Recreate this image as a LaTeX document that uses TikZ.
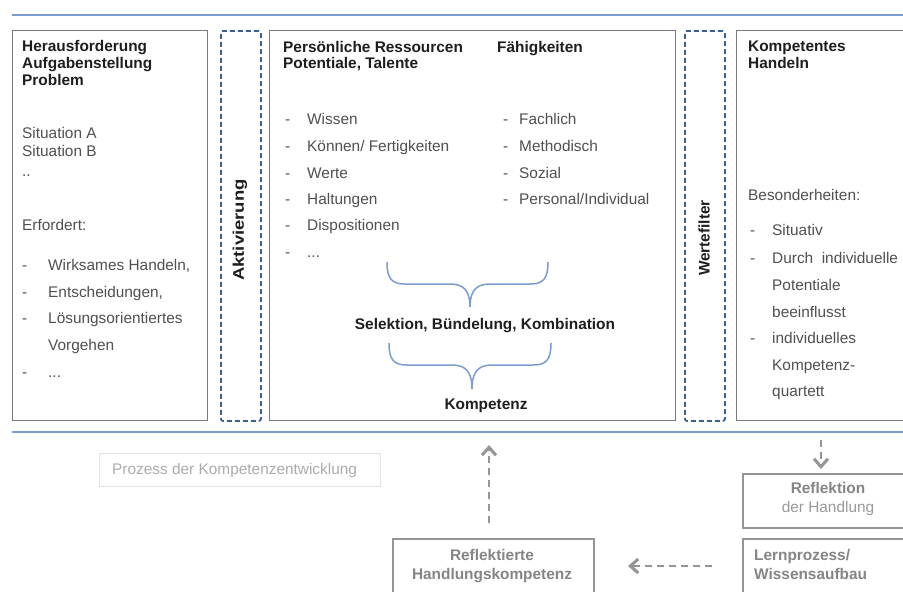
\documentclass[tikz,border=0pt]{standalone}
\usepackage{fontspec}
\setmainfont{Liberation Sans}
\usetikzlibrary{arrows.meta}
\definecolor{blueline}{HTML}{7C9CD0}
\definecolor{dashblue}{HTML}{3F5F90}
\definecolor{boxgray}{HTML}{7A7A7A}
\definecolor{txtgray}{HTML}{505050}
\definecolor{hdgray}{HTML}{1E1E1E}
\definecolor{lowgray}{HTML}{959595}
\definecolor{lowtext}{HTML}{858585}
\definecolor{lowtextb}{HTML}{9A9A9A}
\definecolor{faintgray}{HTML}{E2E2E2}
\definecolor{proztext}{HTML}{ABABAB}
\newcommand\myfs{\fontsize{15.4}{18}\selectfont}
\begin{document}
\begin{tikzpicture}[x=1pt,y=-1pt,
 box/.style={draw=boxgray, line width=1.3pt, inner sep=0, anchor=north west},
 dbox/.style={draw=dashblue, line width=1.8pt, dash pattern=on 5pt off 3pt, rounded corners=2pt, inner sep=0, anchor=north west},
 lowbox/.style={draw=lowgray, line width=1.5pt, inner sep=0, anchor=north west},
 tx/.style={anchor=base west, inner sep=0, text=txtgray, font=\myfs},
 hd/.style={anchor=base west, inner sep=0, text=hdgray, font=\myfs\bfseries},
 hdc/.style={anchor=base, inner sep=0, text=hdgray, font=\myfs\bfseries},
 rot/.style={rotate=90, inner sep=0, text=hdgray, font=\myfs\bfseries},
 sep/.style={draw=blueline, line width=1.6pt},
 brace/.style={draw=blueline, line width=1.5pt},
 flow/.style={draw=lowgray, line width=2.5pt, dash pattern=on 7pt off 5pt, -{Straight Barb[length=8pt,width=14pt,line width=3pt]}},
 low/.style={anchor=base, inner sep=0, text=lowtext, font=\myfs}
]
\fill[white] (0,0) rectangle (903,592);
\useasboundingbox (0,0) rectangle (903,592);

% separator lines
\coordinate (t1) at (12,15); \coordinate (t2) at (903,15);
\coordinate (b1) at (12,432); \coordinate (b2) at (903,432);
\draw[sep] (t1) -- (t2);
\draw[sep] (b1) -- (b2);

% main boxes
\node (lbox) [box, minimum width=195pt, minimum height=390pt] at (12,30) {};
\node (akt) [dbox, minimum width=40pt, minimum height=390pt] at (220,30) {};
\node (mbox) [box, minimum width=406pt, minimum height=390pt] at (269,30) {};
\node (wert) [dbox, minimum width=40pt, minimum height=390pt] at (684,30) {};
\node (rbox) [box, minimum width=180pt, minimum height=390pt] at (736,30) {};

\node (aktt) [rot, xscale=1.2] at (240,230) {Aktivierung};
\node (wertt) [rot] at (704,238) {Wertefilter};

% left box text
\node (l1) [hd] at (22,51) {Herausforderung};
\node (l2) [hd] at (22,68) {Aufgabenstellung};
\node (l3) [hd] at (22,85) {Problem};
\node (l4) [tx] at (22,138) {Situation A};
\node (l5) [tx] at (22,156) {Situation B};
\node (l6) [tx] at (22,176) {..};
\node (l7) [tx] at (22,230) {Erfordert:};
\node (ld1) [tx] at (22,270) {-};
\node (li1) [tx] at (48,270) {Wirksames Handeln,};
\node (ld2) [tx] at (22,297) {-};
\node (li2) [tx] at (48,297) {Entscheidungen,};
\node (ld3) [tx] at (22,323) {-};
\node (li3) [tx] at (48,323) {Lösungsorientiertes};
\node (li4) [tx] at (48,350) {Vorgehen};
\node (ld5) [tx] at (22,377) {-};
\node (li5) [tx] at (48,377) {...};

% middle box text
\node (m1) [hd] at (283,52) {Persönliche Ressourcen};
\node (m2) [hd] at (283,68) {Potentiale, Talente};
\node (m3) [hd] at (497,52) {Fähigkeiten};
\node (md1) [tx] at (285,124) {-}; \node (mi1) [tx] at (307,124) {Wissen};
\node (md2) [tx] at (285,151) {-}; \node (mi2) [tx] at (307,151) {Können/ Fertigkeiten};
\node (md3) [tx] at (285,178) {-}; \node (mi3) [tx] at (307,178) {Werte};
\node (md4) [tx] at (285,204) {-}; \node (mi4) [tx] at (307,204) {Haltungen};
\node (md5) [tx] at (285,230) {-}; \node (mi5) [tx] at (307,230) {Dispositionen};
\node (md6) [tx] at (285,257) {-}; \node (mi6) [tx] at (307,257) {...};
\node (fd1) [tx] at (503,124) {-}; \node (fi1) [tx] at (519,124) {Fachlich};
\node (fd2) [tx] at (503,151) {-}; \node (fi2) [tx] at (519,151) {Methodisch};
\node (fd3) [tx] at (503,178) {-}; \node (fi3) [tx] at (519,178) {Sozial};
\node (fd4) [tx] at (503,204) {-}; \node (fi4) [tx] at (519,204) {Personal/Individual};

% braces
\draw[brace] (387,262) .. controls (387,279) and (392,284) .. (405,284) -- (450,284)
  .. controls (463,284) and (470,290) .. (470,307);
\draw[brace] (548,262) .. controls (548,279) and (543,284) .. (530,284) -- (490,284)
  .. controls (477,284) and (470,290) .. (470,307);
\node (sel) [hdc] at (485,329) {Selektion, Bündelung, Kombination};
\draw[brace] (389,343) .. controls (389,360) and (394,365) .. (407,365) -- (452,365)
  .. controls (465,365) and (472,371) .. (472,389);
\draw[brace] (551,343) .. controls (551,360) and (546,365) .. (533,365) -- (492,365)
  .. controls (479,365) and (472,371) .. (472,389);
\node (komp) [hdc] at (486,409) {Kompetenz};

% right box text
\node (r1) [hd] at (748,51) {Kompetentes};
\node (r2) [hd] at (748,68) {Handeln};
\node (r3) [tx] at (748,200) {Besonderheiten:};
\node (rd1) [tx] at (750,235) {-}; \node (ri1) [tx] at (772,235) {Situativ};
\node (rd2) [tx] at (750,263) {-}; \node (ri2) [tx] at (772,263) {Durch\ \ individuelle};
\node (ri3) [tx] at (772,290) {Potentiale};
\node (ri4) [tx] at (772,317) {beeinflusst};
\node (rd5) [tx] at (750,343) {-}; \node (ri5) [tx] at (772,343) {individuelles};
\node (ri6) [tx] at (772,370) {Kompetenz-};
\node (ri7) [tx] at (772,396) {quartett};

% bottom process
\node (proz) [draw=faintgray, line width=1pt, inner sep=0, anchor=north west, minimum width=281pt, minimum height=33pt] at (99,453) {};
\node (prozt) [anchor=base west, inner sep=0, text=proztext, font=\myfs] at (112,474) {Prozess der Kompetenzentwicklung};

\node (refh) [lowbox, minimum width=201pt, minimum height=60pt] at (392,538) {};
\node (refh1) [low, font=\myfs\bfseries] at (492,560) {Reflektierte};
\node (refh2) [low, font=\myfs\bfseries] at (492,579) {Handlungskompetenz};

\node (refl) [lowbox, minimum width=170pt, minimum height=54pt] at (742,473) {};
\node (refl1) [low, font=\myfs\bfseries] at (828,493) {Reflektion};
\node (refl2) [low, text=lowtextb] at (828,512) {der Handlung};

\node (lern) [lowbox, minimum width=170pt, minimum height=60pt] at (742,538) {};
\node (lern1) [anchor=base west, inner sep=0, text=lowtext, font=\myfs\bfseries] at (754,560) {Lernprozess/};
\node (lern2) [anchor=base west, inner sep=0, text=lowtext, font=\myfs\bfseries] at (754,579) {Wissensaufbau};

% arrows
\coordinate (upS) at (489,523); \coordinate (upE) at (489,445);
\draw[flow] (upS) -- (upE);
\coordinate (dnS) at (821,440); \coordinate (dnE) at (821,469);
\draw[flow] (dnS) -- (dnE);
\coordinate (lfS) at (712,566); \coordinate (lfE) at (628,566);
\draw[flow] (lfS) -- (lfE);
\end{tikzpicture}
\end{document}
